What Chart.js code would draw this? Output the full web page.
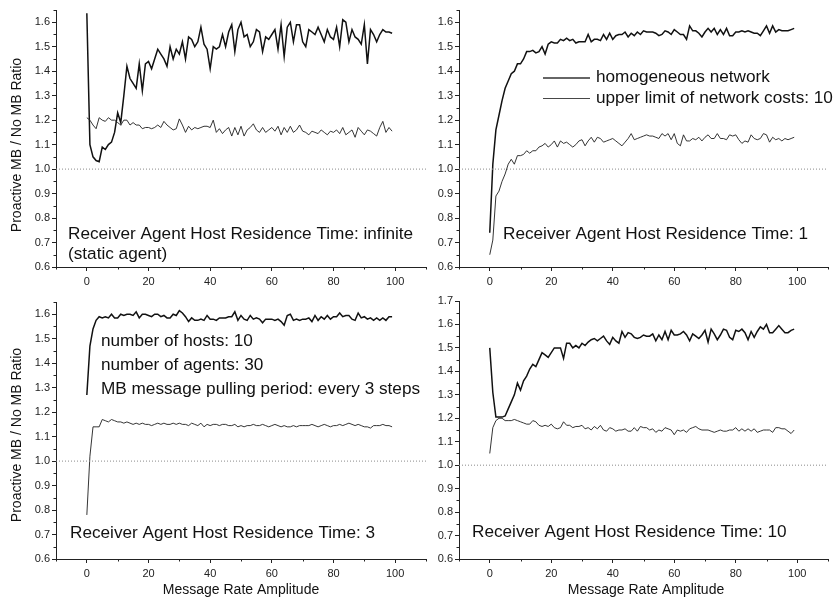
<!DOCTYPE html>
<html>
<head>
<meta charset="utf-8">
<title>Proactive MB / No MB Ratio</title>
<script src="https://cdn.jsdelivr.net/npm/chart.js@4"></script>
<style>
  body { margin: 0; background: #fff; }
  #wrap { position: relative; width: 840px; height: 604px; overflow: hidden; }
  canvas { position: absolute; }
</style>
</head>
<body>
<div id="wrap">
  <canvas id="c1" width="440" height="300" style="left:0;top:0"></canvas>
  <canvas id="c2" width="420" height="300" style="left:420px;top:0"></canvas>
  <canvas id="c3" width="440" height="314" style="left:0;top:290px"></canvas>
  <canvas id="c4" width="420" height="314" style="left:420px;top:290px"></canvas>
</div>
<script>
// message rate amplitude (x)
const amplitudes = [
  0,1,2,3,4,5,6,7,8,9,10,11,12,13,14,15,16,17,18,19,
  20,21,22,23,24,25,26,27,28,29,30,31,32,33,34,35,36,37,38,39,
  40,41,42,43,44,45,46,47,48,49,50,51,52,53,54,55,56,57,58,59,
  60,61,62,63,64,65,66,67,68,69,70,71,72,73,74,75,76,77,78,79,
  80,81,82,83,84,85,86,87,88,89,90,91,92,93,94,95,96,97,98,99
];

// residence time: infinite (static agent)
const infHomogeneous = [
  1.637,1.10,1.05,1.035,1.03,1.09,1.08,1.10,1.11,1.15,1.23,1.19,1.30,1.42,1.37,1.35,1.33,1.43,1.32,1.43,
  1.44,1.41,1.45,1.49,1.47,1.45,1.42,1.50,1.45,1.49,1.47,1.52,1.45,1.54,1.53,1.50,1.52,1.58,1.51,1.49,
  1.41,1.50,1.49,1.50,1.55,1.50,1.56,1.59,1.48,1.57,1.60,1.54,1.55,1.50,1.52,1.57,1.56,1.48,1.54,1.53,
  1.55,1.57,1.49,1.59,1.46,1.58,1.60,1.52,1.59,1.59,1.52,1.50,1.57,1.56,1.55,1.58,1.55,1.52,1.57,1.54,
  1.53,1.58,1.50,1.61,1.60,1.52,1.57,1.54,1.53,1.51,1.59,1.43,1.57,1.55,1.52,1.55,1.57,1.56,1.56,1.555
];
const infUpperLimit = [
  1.21,1.20,1.18,1.165,1.21,1.20,1.195,1.21,1.20,1.20,1.19,1.18,1.20,1.20,1.18,1.19,1.18,1.18,1.165,1.17,
  1.17,1.165,1.17,1.18,1.17,1.195,1.18,1.17,1.16,1.165,1.205,1.18,1.15,1.175,1.16,1.17,1.165,1.17,1.175,1.175,
  1.17,1.20,1.15,1.165,1.145,1.16,1.17,1.135,1.17,1.14,1.175,1.135,1.16,1.17,1.185,1.16,1.15,1.17,1.15,1.16,
  1.17,1.155,1.175,1.14,1.17,1.15,1.175,1.15,1.16,1.18,1.155,1.15,1.14,1.155,1.15,1.145,1.16,1.15,1.14,1.155,
  1.15,1.16,1.145,1.17,1.14,1.15,1.16,1.13,1.17,1.155,1.14,1.16,1.155,1.145,1.135,1.17,1.195,1.15,1.17,1.155
];

// residence time: 1
const rt1Homogeneous = [
  0.74,1.02,1.16,1.22,1.28,1.33,1.36,1.39,1.40,1.43,1.43,1.45,1.48,1.48,1.485,1.475,1.48,1.50,1.47,1.51,
  1.52,1.515,1.515,1.53,1.525,1.535,1.525,1.53,1.515,1.52,1.52,1.52,1.55,1.52,1.53,1.53,1.525,1.55,1.53,1.555,
  1.53,1.545,1.55,1.55,1.56,1.54,1.555,1.545,1.56,1.55,1.565,1.56,1.56,1.56,1.555,1.545,1.55,1.565,1.56,1.55,
  1.57,1.56,1.55,1.55,1.53,1.585,1.565,1.565,1.555,1.54,1.56,1.575,1.56,1.575,1.55,1.57,1.55,1.575,1.545,1.545,
  1.56,1.56,1.565,1.56,1.565,1.56,1.555,1.555,1.545,1.565,1.585,1.555,1.585,1.56,1.57,1.565,1.565,1.565,1.57,1.575
];
const rt1UpperLimit = [
  0.65,0.71,0.89,0.91,0.95,0.98,1.02,1.04,1.02,1.055,1.055,1.06,1.075,1.065,1.075,1.075,1.09,1.095,1.105,1.09,
  1.10,1.115,1.09,1.115,1.105,1.11,1.10,1.09,1.10,1.115,1.12,1.095,1.115,1.13,1.11,1.13,1.125,1.11,1.115,1.12,
  1.125,1.115,1.105,1.095,1.11,1.125,1.145,1.12,1.125,1.13,1.135,1.14,1.135,1.135,1.13,1.125,1.145,1.135,1.145,1.12,
  1.145,1.105,1.095,1.14,1.115,1.115,1.125,1.12,1.13,1.115,1.13,1.14,1.125,1.125,1.145,1.125,1.125,1.12,1.14,1.135,
  1.14,1.12,1.105,1.115,1.11,1.14,1.125,1.12,1.125,1.145,1.14,1.11,1.13,1.12,1.125,1.115,1.125,1.12,1.125,1.13
];

// residence time: 3
const rt3Homogeneous = [
  1.27,1.47,1.54,1.575,1.59,1.585,1.59,1.585,1.60,1.585,1.585,1.60,1.595,1.60,1.60,1.595,1.61,1.585,1.60,1.60,
  1.595,1.59,1.60,1.60,1.59,1.595,1.585,1.585,1.60,1.595,1.615,1.605,1.59,1.57,1.585,1.575,1.575,1.58,1.575,1.595,
  1.58,1.58,1.575,1.585,1.585,1.585,1.59,1.59,1.61,1.575,1.595,1.58,1.575,1.595,1.58,1.585,1.58,1.565,1.58,1.58,
  1.58,1.575,1.58,1.57,1.555,1.595,1.60,1.575,1.58,1.575,1.58,1.58,1.585,1.57,1.595,1.575,1.59,1.58,1.595,1.58,
  1.59,1.59,1.605,1.59,1.595,1.595,1.58,1.575,1.605,1.585,1.59,1.58,1.585,1.575,1.585,1.575,1.585,1.575,1.59,1.59
];
const rt3UpperLimit = [
  0.78,1.02,1.14,1.14,1.14,1.17,1.165,1.16,1.17,1.165,1.16,1.16,1.155,1.16,1.155,1.15,1.155,1.15,1.155,1.15,
  1.15,1.145,1.15,1.155,1.15,1.155,1.15,1.15,1.155,1.15,1.155,1.15,1.15,1.145,1.155,1.15,1.145,1.155,1.14,1.15,
  1.145,1.15,1.15,1.145,1.15,1.15,1.145,1.145,1.15,1.14,1.145,1.14,1.145,1.145,1.15,1.145,1.145,1.15,1.145,1.14,
  1.145,1.15,1.145,1.14,1.145,1.14,1.14,1.145,1.14,1.145,1.145,1.145,1.145,1.15,1.145,1.14,1.145,1.15,1.145,1.14,
  1.145,1.145,1.15,1.145,1.15,1.155,1.15,1.145,1.15,1.145,1.14,1.14,1.135,1.145,1.145,1.145,1.15,1.145,1.145,1.14
];

// residence time: 10
const rt10Homogeneous = [
  1.50,1.31,1.205,1.205,1.205,1.21,1.24,1.27,1.30,1.35,1.32,1.36,1.38,1.41,1.43,1.42,1.45,1.48,1.47,1.46,
  1.48,1.50,1.50,1.50,1.455,1.52,1.52,1.50,1.51,1.50,1.52,1.51,1.525,1.535,1.54,1.53,1.54,1.55,1.53,1.515,
  1.545,1.53,1.52,1.57,1.545,1.565,1.56,1.545,1.54,1.545,1.555,1.55,1.55,1.56,1.53,1.555,1.535,1.57,1.535,1.575,
  1.555,1.555,1.56,1.57,1.555,1.53,1.56,1.55,1.54,1.555,1.575,1.525,1.58,1.56,1.535,1.555,1.58,1.575,1.545,1.535,
  1.575,1.57,1.58,1.565,1.535,1.57,1.545,1.57,1.59,1.58,1.60,1.565,1.565,1.58,1.595,1.58,1.565,1.565,1.575,1.58
];
const rt10UpperLimit = [
  1.05,1.16,1.19,1.20,1.20,1.19,1.19,1.19,1.195,1.19,1.185,1.18,1.175,1.175,1.19,1.185,1.17,1.165,1.17,1.165,
  1.175,1.16,1.155,1.16,1.185,1.17,1.17,1.16,1.165,1.165,1.17,1.155,1.16,1.15,1.165,1.155,1.17,1.15,1.145,1.16,
  1.155,1.145,1.15,1.15,1.155,1.145,1.145,1.16,1.145,1.165,1.16,1.16,1.15,1.155,1.14,1.15,1.145,1.16,1.155,1.15,
  1.13,1.15,1.145,1.15,1.14,1.155,1.16,1.165,1.155,1.15,1.15,1.15,1.145,1.14,1.145,1.15,1.145,1.145,1.15,1.15,
  1.16,1.145,1.155,1.145,1.155,1.145,1.155,1.14,1.145,1.15,1.15,1.15,1.14,1.16,1.16,1.155,1.155,1.145,1.135,1.15
];

// axes
const xMajorTicks = [0, 20, 40, 60, 80, 100];
const xMinorTicks = [-10, 10, 30, 50, 70, 90, 110];
const yMajorTicks = [0.6, 0.7, 0.8, 0.9, 1.0, 1.1, 1.2, 1.3, 1.4, 1.5, 1.6];
const yMajorTicksTall = [0.6, 0.7, 0.8, 0.9, 1.0, 1.1, 1.2, 1.3, 1.4, 1.5, 1.6, 1.7];
const yMinorTicks = [0.65, 0.75, 0.85, 0.95, 1.05, 1.15, 1.25, 1.35, 1.45, 1.55, 1.65];
const referenceLevel = 1.0;

const FONT = '"Liberation Sans", Arial, Helvetica, sans-serif';
const INK = '#222';

const toPoints = vals => vals.map((v, i) => ({ x: amplitudes[i], y: v }));

// short minor tick marks, placed through the scales
const minorTicks = {
  id: 'minorTicks',
  afterDraw(chart) {
    const { ctx, scales: { x, y } } = chart;
    ctx.save();
    ctx.strokeStyle = INK;
    ctx.lineWidth = 1;
    ctx.beginPath();
    xMinorTicks.forEach(v => {
      const px = Math.round(x.getPixelForValue(v)) + 0.5;
      ctx.moveTo(px, y.bottom);
      ctx.lineTo(px, y.bottom + 2.5);
    });
    yMinorTicks.forEach(v => {
      if (v > y.max + 1e-9) return;
      const py = Math.round(y.getPixelForValue(v)) + 0.5;
      ctx.moveTo(x.left, py);
      ctx.lineTo(x.left - 2.5, py);
    });
    ctx.stroke();
    ctx.restore();
  }
};

// free text: panel captions, axis titles, legend
const notes = {
  id: 'notes',
  afterDraw(chart, args, opts) {
    const ctx = chart.ctx;
    ctx.save();
    ctx.fillStyle = '#111';
    ctx.textBaseline = 'middle';
    (opts.items || []).forEach(n => {
      ctx.save();
      ctx.font = (n.size || 17.2) + 'px ' + FONT;
      ctx.textAlign = n.align || 'left';
      ctx.translate(n.x, n.y);
      if (n.rotate) ctx.rotate(n.rotate);
      ctx.fillText(n.text, 0, 0);
      ctx.restore();
    });
    (opts.swatches || []).forEach(s => {
      ctx.strokeStyle = '#333';
      ctx.lineWidth = s.width;
      ctx.beginPath();
      ctx.moveTo(s.x1, s.y);
      ctx.lineTo(s.x2, s.y);
      ctx.stroke();
    });
    ctx.restore();
  }
};

function makePanel(id, homogeneous, upperLimit, cfg) {
  const yTicks = cfg.yMax > 1.65 ? yMajorTicksTall : yMajorTicks;
  return new Chart(document.getElementById(id), {
    type: 'line',
    data: {
      datasets: [
        {
          label: 'reference',
          data: [{ x: -10, y: referenceLevel }, { x: 110, y: referenceLevel }],
          borderColor: '#8a8a8a',
          borderWidth: 1,
          borderDash: [1, 2],
          pointRadius: 0
        },
        {
          label: 'upper limit of network costs: 10',
          data: toPoints(upperLimit),
          borderColor: '#1e1e1e',
          borderWidth: 0.9,
          pointRadius: 0
        },
        {
          label: 'homogeneous network',
          data: toPoints(homogeneous),
          borderColor: '#111',
          borderWidth: 1.5,
          pointRadius: 0
        }
      ]
    },
    options: {
      responsive: false,
      animation: false,
      layout: { padding: cfg.padding },
      plugins: {
        legend: { display: false },
        tooltip: { enabled: false },
        notes: { items: cfg.items, swatches: cfg.swatches || [] }
      },
      scales: {
        x: {
          type: 'linear',
          min: -10,
          max: 110,
          afterFit: s => { s.height = cfg.xHeight; },
          afterBuildTicks: s => { s.ticks = xMajorTicks.map(v => ({ value: v })); },
          grid: { drawOnChartArea: false, drawTicks: true, tickLength: 4, color: INK },
          border: { color: INK, width: 1 },
          ticks: { color: INK, padding: 4, font: { family: FONT, size: 11 }, maxRotation: 0 }
        },
        y: {
          min: 0.6,
          max: cfg.yMax,
          afterFit: s => { s.width = cfg.yWidth; },
          afterBuildTicks: s => { s.ticks = yTicks.map(v => ({ value: v })); },
          grid: { drawOnChartArea: false, drawTicks: true, tickLength: 4, color: INK },
          border: { color: INK, width: 1 },
          ticks: {
            color: INK, padding: 2, font: { family: FONT, size: 11 },
            callback: v => v.toFixed(1)
          }
        }
      }
    },
    plugins: [minorTicks, notes]
  });
}

const yTitle = 'Proactive MB / No MB Ratio';
const xTitle = 'Message Rate Amplitude';

makePanel('c1', infHomogeneous, infUpperLimit, {
  yMax: 1.65, yWidth: 56, xHeight: 33,
  padding: { left: 0, top: 10, right: 14, bottom: 0 },
  items: [
    { text: yTitle, x: 17, y: 145, size: 14, align: 'center', rotate: -Math.PI / 2 },
    { text: 'Receiver Agent Host Residence Time: infinite', x: 68, y: 234 },
    { text: '(static agent)', x: 68, y: 254 }
  ]
});

makePanel('c2', rt1Homogeneous, rt1UpperLimit, {
  yMax: 1.65, yWidth: 39, xHeight: 33,
  padding: { left: 0, top: 10, right: 12, bottom: 0 },
  items: [
    { text: 'homogeneous network', x: 176, y: 77 },
    { text: 'upper limit of network costs: 10', x: 176, y: 98 },
    { text: 'Receiver Agent Host Residence Time: 1', x: 83, y: 234 }
  ],
  swatches: [
    { x1: 123, x2: 170, y: 78, width: 1.5 },
    { x1: 123, x2: 170, y: 98.5, width: 0.9 }
  ]
});

makePanel('c3', rt3Homogeneous, rt3UpperLimit, {
  yMax: 1.65, yWidth: 56, xHeight: 45,
  padding: { left: 0, top: 12, right: 14, bottom: 0 },
  items: [
    { text: yTitle, x: 17, y: 145, size: 14, align: 'center', rotate: -Math.PI / 2 },
    { text: xTitle, x: 241, y: 300, size: 14, align: 'center' },
    { text: 'number of hosts: 10', x: 101, y: 51 },
    { text: 'number of agents: 30', x: 101, y: 75 },
    { text: 'MB message pulling period: every 3 steps', x: 101, y: 99 },
    { text: 'Receiver Agent Host Residence Time: 3', x: 70, y: 243 }
  ]
});

makePanel('c4', rt10Homogeneous, rt10UpperLimit, {
  yMax: 1.7, yWidth: 39, xHeight: 45,
  padding: { left: 0, top: 11, right: 12, bottom: 0 },
  items: [
    { text: xTitle, x: 226, y: 300, size: 14, align: 'center' },
    { text: 'Receiver Agent Host Residence Time: 10', x: 52, y: 242 }
  ]
});
</script>
</body>
</html>
